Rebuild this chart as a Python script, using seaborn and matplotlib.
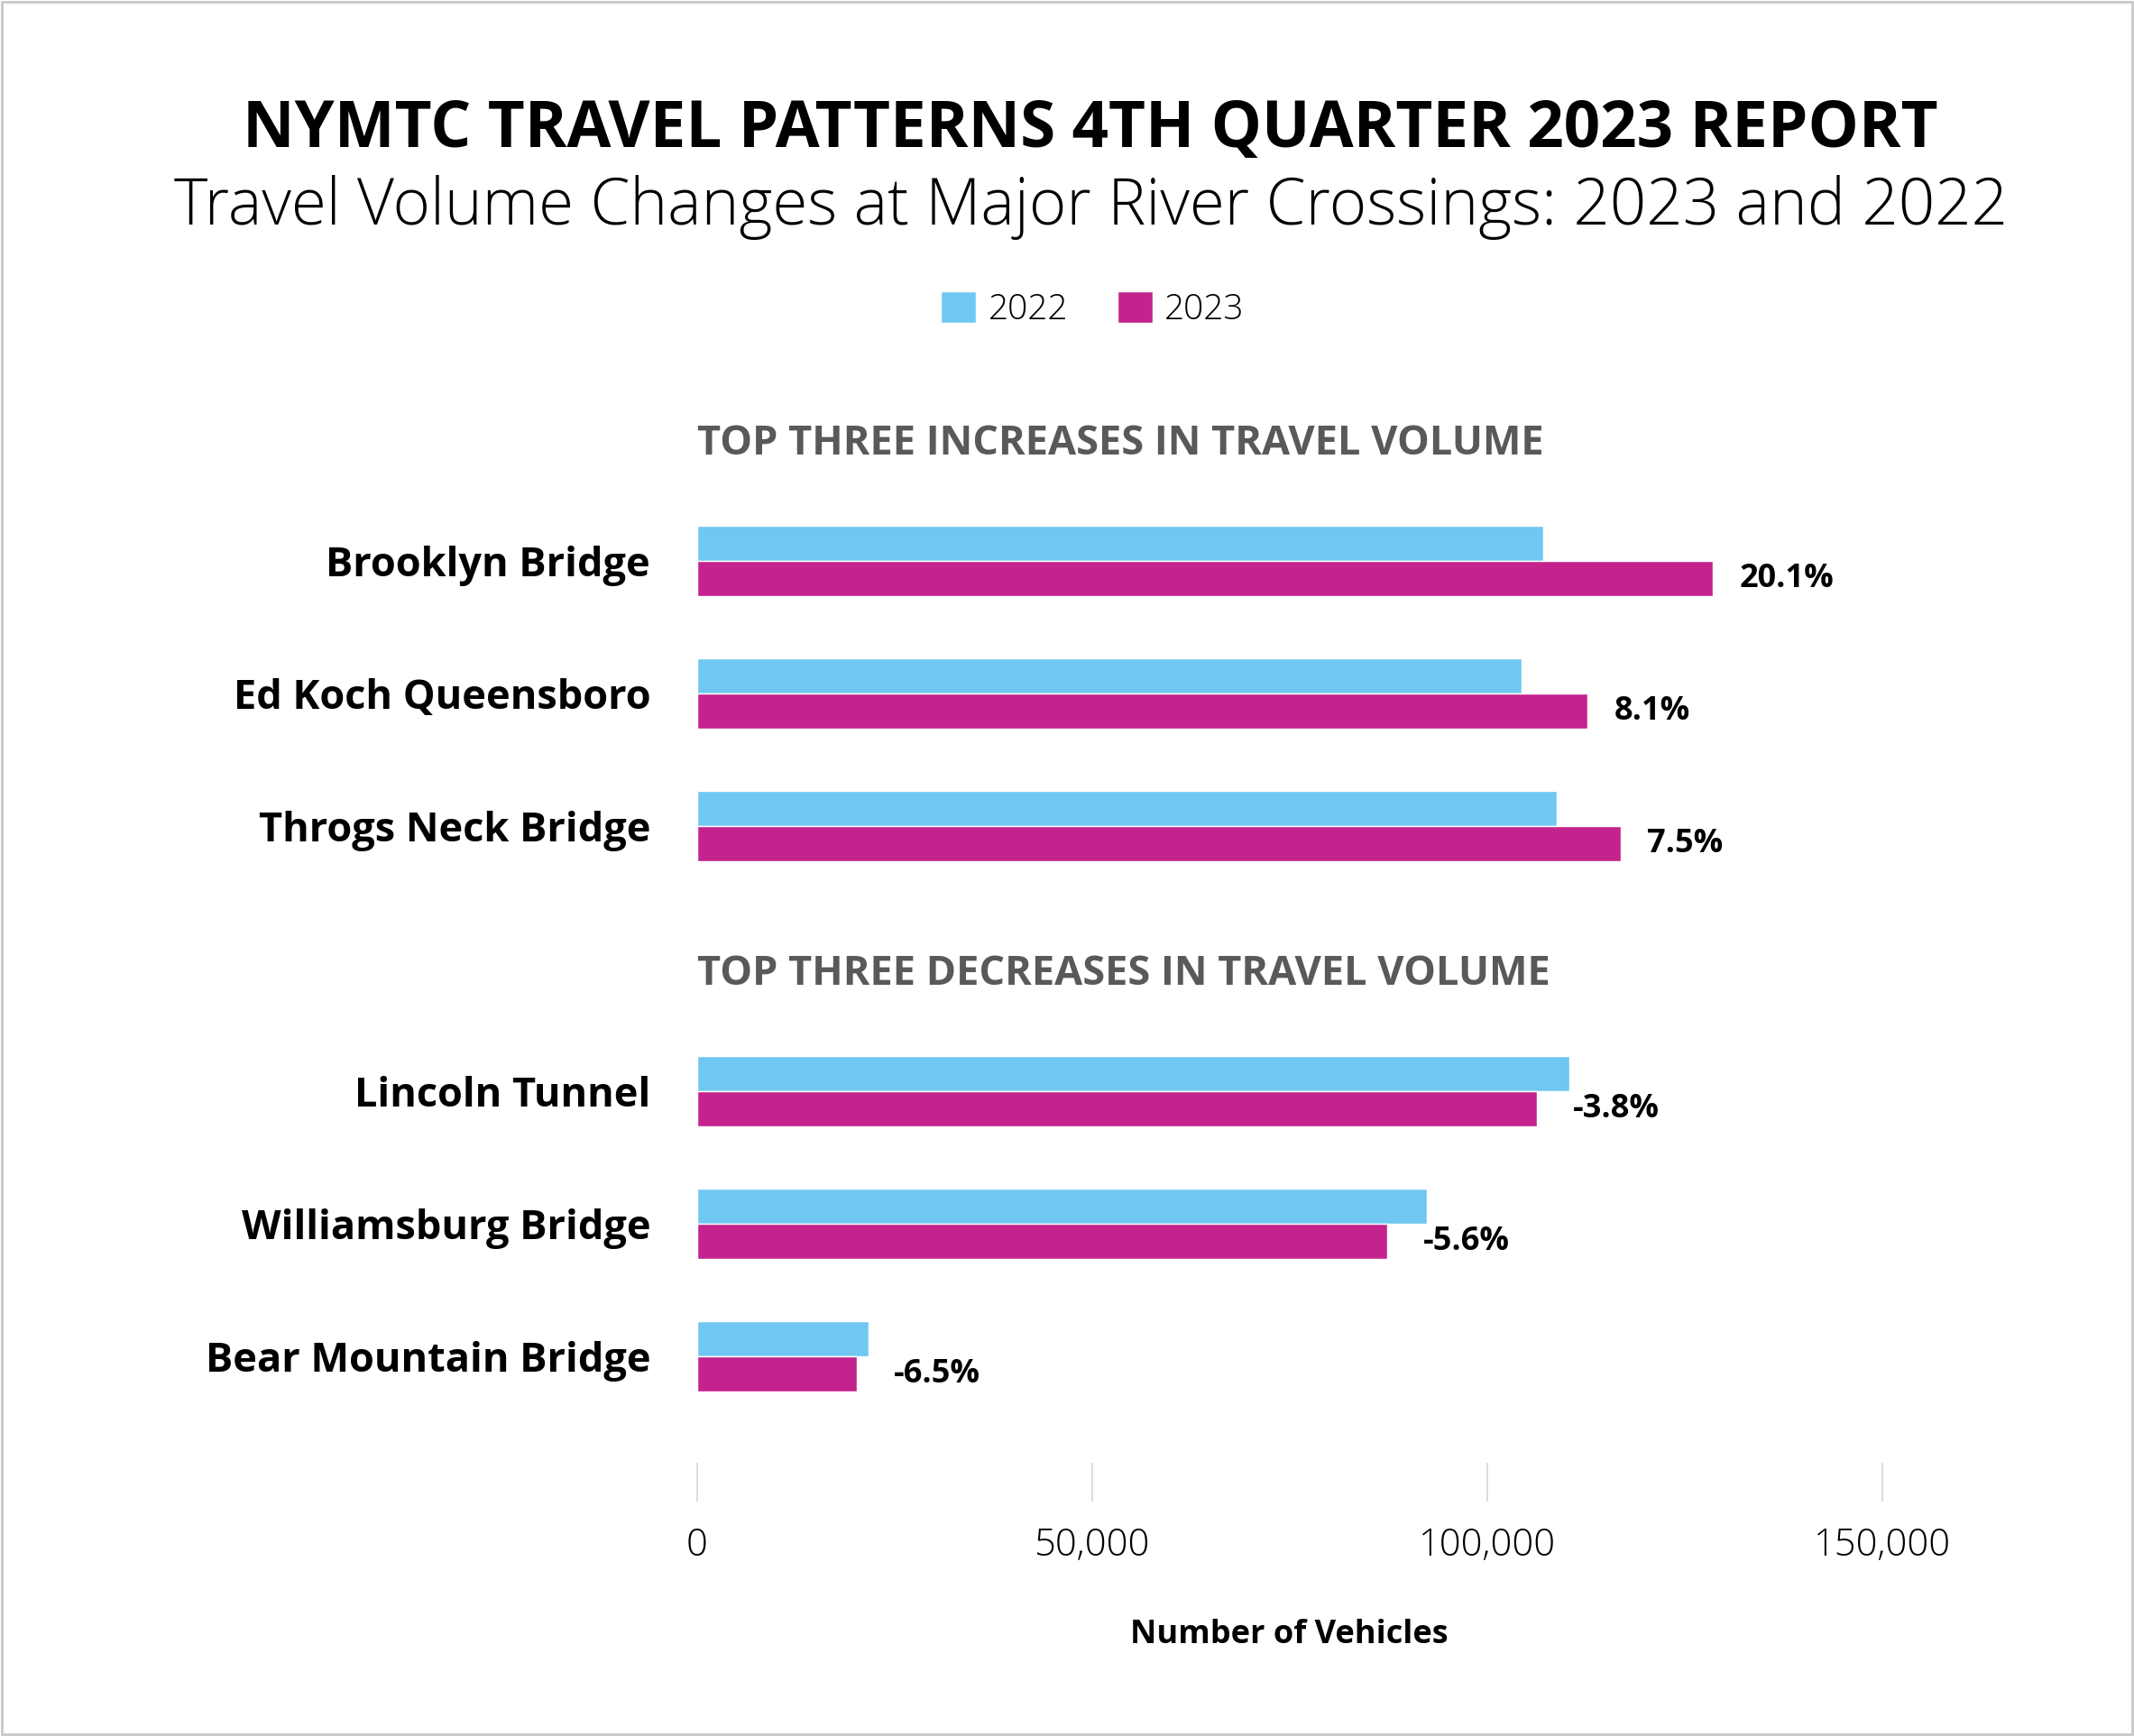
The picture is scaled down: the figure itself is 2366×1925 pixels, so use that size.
import pandas as pd
import seaborn as sns
import matplotlib.pyplot as plt
from matplotlib.patches import Rectangle

# Dane
crossings = ['Brooklyn Bridge', 'Ed Koch Queensboro', 'Throgs Neck Bridge',
             'Lincoln Tunnel', 'Williamsburg Bridge', 'Bear Mountain Bridge']
vol_2022 = [107100, 104300, 108800, 110400, 92400, 21700]
vol_2023 = [128600, 112700, 116900, 106300, 87300, 20300]
pct_change = ['20.1%', '8.1%', '7.5%', '-3.8%', '-5.6%', '-6.5%']
years = ['2022', '2023']
x_ticks = [0, 50000, 100000, 150000]

df = pd.DataFrame({
    'Crossing': crossings * 2,
    'Year': ['2022'] * 6 + ['2023'] * 6,
    'Vehicles': vol_2022 + vol_2023,
})

# pusty wiersz miedzy grupami
order = crossings[:3] + [' '] + crossings[3:]

sns.set_style('white')
plt.rcParams['font.family'] = ['Open Sans', 'DejaVu Sans']
plt.rcParams['text.color'] = 'black'
plt.rcParams['axes.labelcolor'] = 'black'
plt.rcParams['xtick.color'] = 'black'
plt.rcParams['ytick.color'] = 'black'

fig = plt.figure(figsize=(23.66, 19.25), dpi=100)
ax = fig.add_axes([0.32654, 0.13506, 0.55554, 0.63346])

sns.barplot(data=df, y='Crossing', x='Vehicles', hue='Year', order=order,
            hue_order=years, palette=['#70C8F2', '#C4238E'], width=0.53,
            orient='h', errorbar=None, saturation=1, ax=ax)

ax.set_xlim(0, 150000)
ax.set_ylim(7.095, -1.2)
ax.set_xticks(x_ticks)
ax.set_xticklabels([f'{t:,}' for t in x_ticks], fontsize=30, fontweight=300)
ax.tick_params(axis='x', bottom=True, direction='in', length=31, width=1.3,
               color='#d9d9d9', labelcolor='black', pad=20)
ax.tick_params(axis='y', length=0, pad=37)
for lbl in ax.get_yticklabels():
    lbl.set_fontsize(32.5)
    lbl.set_fontweight('bold')
ax.set_ylabel('')
ax.set_xlabel('Number of Vehicles', fontsize=26, fontweight='bold', labelpad=43)
for s in ax.spines.values():
    s.set_visible(False)

# etykiety procentowe przy slupkach 2023
for name, v, p in zip(crossings, vol_2023, pct_change):
    off = 29 if p.startswith('-') else 21
    ax.annotate(p, (v, order.index(name) + 0.133), xytext=(off, 0),
                textcoords='offset points', ha='left', va='center',
                fontsize=26, fontweight='bold')

ax.text(0, -0.88, 'TOP THREE INCREASES IN TRAVEL VOLUME', ha='left', va='center',
        fontsize=32.5, fontweight='bold', color='#595959')
ax.text(0, 3.12, 'TOP THREE DECREASES IN TRAVEL VOLUME', ha='left', va='center',
        fontsize=32.5, fontweight='bold', color='#595959')

sns.move_legend(ax, 'center', bbox_to_anchor=(0.512, 0.822),
                bbox_transform=fig.transFigure, ncol=2, title=None, frameon=False,
                fontsize=28, handlelength=1, handleheight=1, handletextpad=0.35,
                columnspacing=1.4)
for t in ax.get_legend().get_texts():
    t.set_fontweight(300)

fig.text(0.511, 1 - 163 / 1925, 'NYMTC TRAVEL PATTERNS 4TH QUARTER 2023 REPORT',
         ha='center', va='baseline', fontsize=51, fontweight='bold')
fig.text(0.511, 1 - 249 / 1925, 'Travel Volume Changes at Major River Crossings: 2023 and 2022',
         ha='center', va='baseline', fontsize=51, fontweight=300)

fig.patches.append(Rectangle((0.001, 0.001), 0.998, 0.998, transform=fig.transFigure,
                             fill=False, edgecolor='#c8c8c8', linewidth=2))

plt.savefig('out.png', dpi=100)
